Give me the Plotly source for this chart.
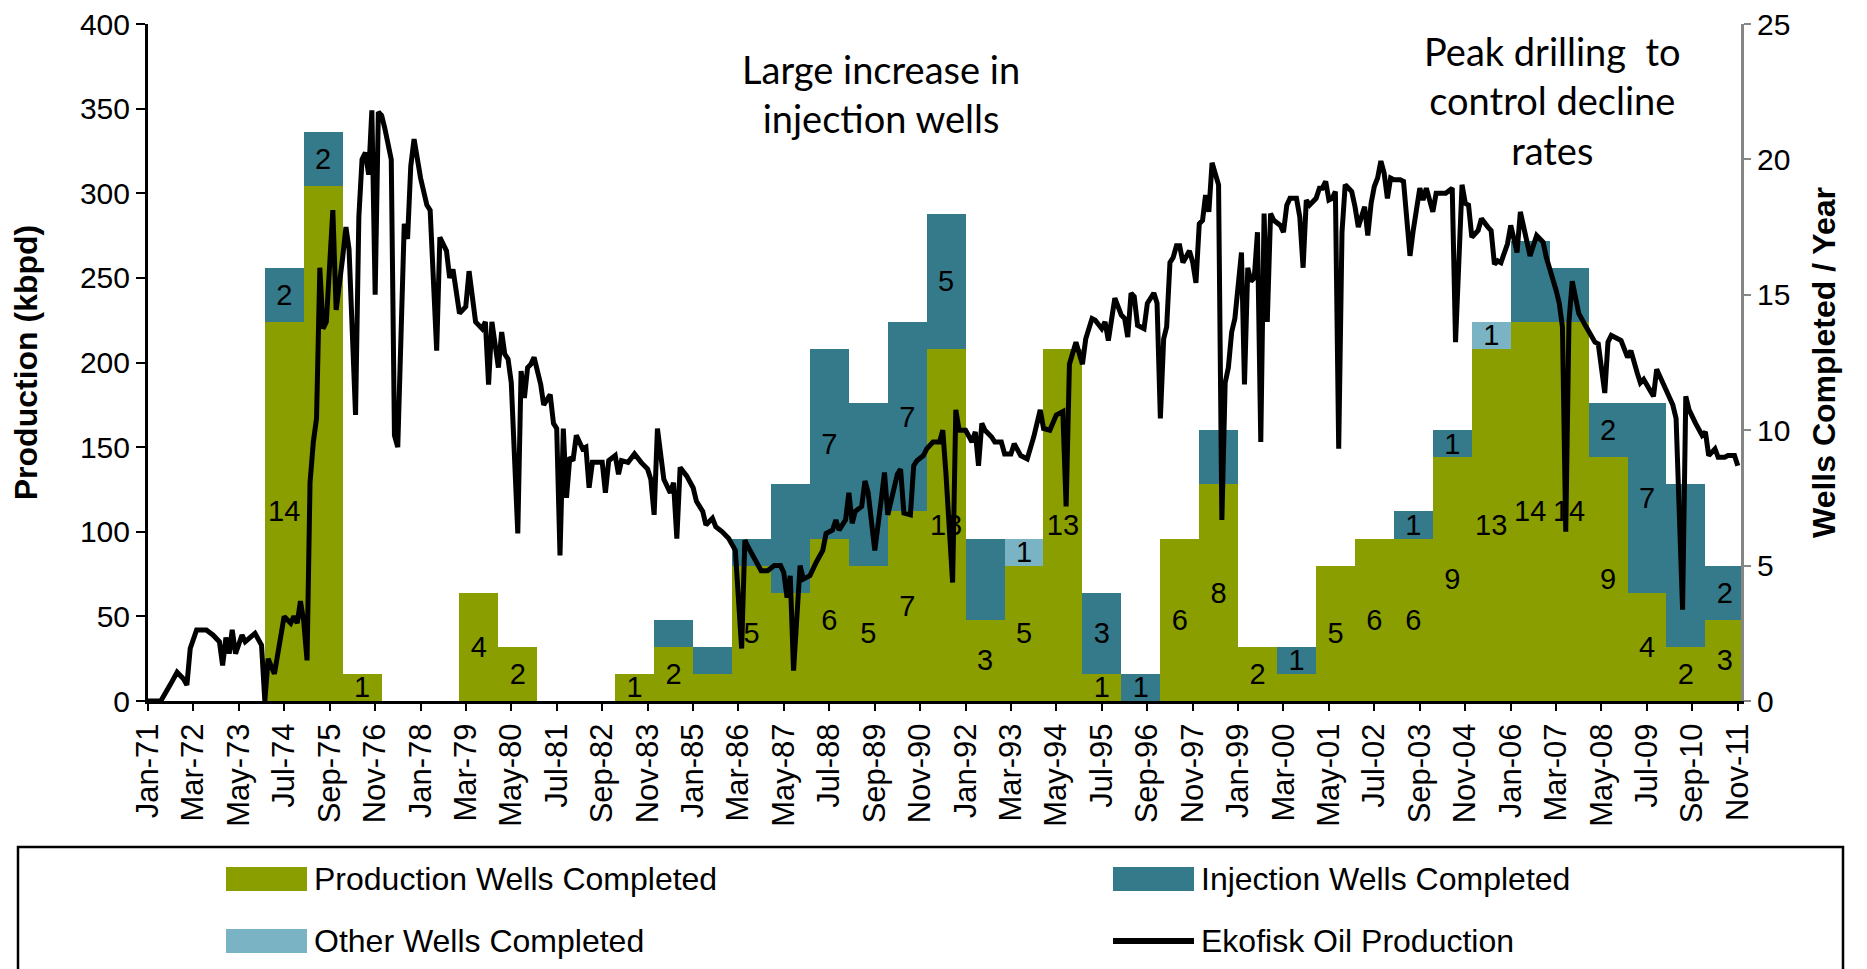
import plotly.graph_objects as go

# wells completed per year (right axis)
years = list(range(1971, 2012))
production_wells = [0, 0, 0, 14, 19, 1, 0, 0, 4, 2, 0, 0, 1, 2, 1, 5, 4, 6, 5, 7, 13,
                    3, 5, 13, 1, 0, 6, 8, 2, 1, 5, 6, 6, 9, 13, 14, 14, 9, 4, 2, 3]
injection_wells = [0, 0, 0, 2, 2, 0, 0, 0, 0, 0, 0, 0, 0, 1, 1, 1, 4, 7, 6, 7, 5,
                   3, 0, 0, 3, 1, 0, 2, 0, 1, 0, 0, 1, 1, 0, 3, 2, 2, 7, 6, 2]
other_wells = [0, 0, 0, 0, 0, 0, 0, 0, 0, 0, 0, 0, 0, 0, 0, 0, 0, 0, 0, 0, 0,
               0, 1, 0, 0, 0, 0, 0, 0, 0, 0, 0, 0, 0, 1, 0, 0, 0, 0, 0, 0]

# value labels as they appear on the chart (some are not shown)
production_labels = ["", "", "", "14", "", "1", "", "", "4", "2", "", "", "1", "2", "", "5", "", "6", "5", "7", "13",
                     "3", "5", "13", "1", "", "6", "8", "2", "", "5", "6", "6", "9", "13", "14", "14", "9", "4", "2", "3"]
injection_labels = ["", "", "", "2", "2", "", "", "", "", "", "", "", "", "", "", "", "", "7", "", "7", "5",
                    "", "", "", "3", "1", "", "", "", "1", "", "", "1", "1", "", "", "", "2", "7", "", "2"]
other_labels = ["", "", "", "", "", "", "", "", "", "", "", "", "", "", "", "", "", "", "", "", "",
                "", "1", "", "", "", "", "", "", "", "", "", "", "", "1", "", "", "", "", "", ""]

# Ekofisk oil production, kbpd (left axis)
oil_month = [
    "1971-01", "1971-05", "1971-08", "1971-10", "1971-12",
    "1972-01", "1972-02", "1972-04", "1972-07", "1972-09", "1972-11", "1972-12",
    "1973-01", "1973-02", "1973-03", "1973-04", "1973-06", "1973-07", "1973-10", "1973-12",
    "1974-01", "1974-02", "1974-04", "1974-07", "1974-09", "1974-10", "1974-11", "1974-12",
    "1975-01", "1975-02", "1975-03", "1975-04", "1975-05", "1975-06", "1975-07", "1975-08", "1975-10", "1975-11",
    "1976-01", "1976-02", "1976-03", "1976-05", "1976-06", "1976-07", "1976-08", "1976-09", "1976-10", "1976-11", "1976-12",
    "1977-01", "1977-02", "1977-04", "1977-05", "1977-06", "1977-08", "1977-09", "1977-10", "1977-11",
    "1978-01", "1978-03", "1978-04", "1978-06", "1978-07", "1978-09", "1978-10", "1978-11",
    "1979-01", "1979-03", "1979-04", "1979-06", "1979-08", "1979-09", "1979-10", "1979-11",
    "1980-01", "1980-02", "1980-03", "1980-04", "1980-05", "1980-07", "1980-08", "1980-09", "1980-10", "1980-11", "1980-12",
    "1981-02", "1981-03", "1981-05", "1981-06", "1981-07", "1981-08", "1981-09", "1981-10", "1981-11", "1981-12",
    "1982-01", "1982-03", "1982-04", "1982-05", "1982-06", "1982-09", "1982-10", "1982-11",
    "1983-01", "1983-02", "1983-03", "1983-05", "1983-07", "1983-09", "1983-11", "1983-12",
    "1984-01", "1984-02", "1984-04", "1984-06", "1984-07", "1984-08", "1984-09", "1984-11",
    "1985-01", "1985-02", "1985-04", "1985-05", "1985-07", "1985-08", "1985-10", "1985-12",
    "1986-02", "1986-04", "1986-05", "1986-06", "1986-09", "1986-10", "1986-12",
    "1987-02", "1987-04", "1987-05", "1987-06", "1987-07", "1987-08", "1987-10", "1987-11",
    "1988-01", "1988-03", "1988-05", "1988-06", "1988-08", "1988-09", "1988-10", "1988-12",
    "1989-01", "1989-02", "1989-03", "1989-05", "1989-06", "1989-07", "1989-08", "1989-09", "1989-11", "1989-12",
    "1990-01", "1990-03", "1990-04", "1990-05", "1990-06", "1990-08", "1990-09", "1990-10", "1990-12",
    "1991-01", "1991-03", "1991-05", "1991-06", "1991-07", "1991-09", "1991-10", "1991-11",
    "1992-01", "1992-03", "1992-04", "1992-05", "1992-06", "1992-07", "1992-09", "1992-10", "1992-12",
    "1993-01", "1993-03", "1993-04", "1993-06", "1993-08", "1993-10", "1993-12",
    "1994-01", "1994-03", "1994-05", "1994-07", "1994-08", "1994-09", "1994-11",
    "1995-01", "1995-02", "1995-04", "1995-05", "1995-07", "1995-08", "1995-09", "1995-11",
    "1996-01", "1996-02", "1996-03", "1996-04", "1996-05", "1996-06", "1996-08", "1996-09", "1996-11", "1996-12",
    "1997-01", "1997-02", "1997-03", "1997-04", "1997-05", "1997-06", "1997-07", "1997-08", "1997-10", "1997-11", "1997-12",
    "1998-01", "1998-02", "1998-03", "1998-04", "1998-05", "1998-06", "1998-07", "1998-08", "1998-09", "1998-10", "1998-11", "1998-12",
    "1999-01", "1999-02", "1999-03", "1999-04", "1999-05", "1999-06", "1999-07", "1999-08", "1999-09", "1999-10", "1999-11", "1999-12",
    "2000-02", "2000-03", "2000-04", "2000-05", "2000-07", "2000-08", "2000-09", "2000-10", "2000-11",
    "2001-01", "2001-02", "2001-03", "2001-04", "2001-05", "2001-06", "2001-07", "2001-08", "2001-09", "2001-10", "2001-12",
    "2002-01", "2002-02", "2002-04", "2002-05", "2002-06", "2002-07", "2002-08", "2002-09", "2002-10", "2002-11", "2002-12",
    "2003-01", "2003-03", "2003-04", "2003-06", "2003-07", "2003-09", "2003-10", "2003-11",
    "2004-01", "2004-02", "2004-03", "2004-05", "2004-07", "2004-08", "2004-10", "2004-11", "2004-12",
    "2005-01", "2005-03", "2005-04", "2005-06", "2005-07", "2005-08", "2005-09", "2005-10", "2005-12",
    "2006-01", "2006-03", "2006-04", "2006-05", "2006-06", "2006-07", "2006-09", "2006-11", "2006-12",
    "2007-02", "2007-03", "2007-04", "2007-05", "2007-06", "2007-07", "2007-08", "2007-09", "2007-10", "2007-12",
    "2008-02", "2008-03", "2008-04", "2008-06", "2008-07", "2008-08", "2008-10", "2008-11",
    "2009-01", "2009-02", "2009-04", "2009-05", "2009-06", "2009-08", "2009-09", "2009-10", "2009-12",
    "2010-01", "2010-03", "2010-04", "2010-06", "2010-07", "2010-08", "2010-10", "2010-12",
    "2011-01", "2011-02", "2011-04", "2011-05", "2011-07", "2011-08", "2011-10", "2011-11",
]
oil_kbpd = [
    0, 0, 10, 17, 13,
    9.5, 31, 42, 42, 39, 35, 21,
    37.5, 28, 42, 28, 39, 35, 40, 33,
    0, 25, 16, 50, 46, 50, 46, 59,
    47, 24, 129, 153, 167, 256, 220, 224, 290, 231,
    262, 280, 267, 169, 286, 320, 324, 311, 349, 240, 348,
    346, 338, 320, 157, 150, 282, 273, 316, 332,
    309, 293, 290, 207, 274, 266, 250, 255,
    229, 233, 254, 224, 220, 224, 187, 224,
    197, 218, 205, 202, 188, 99, 195, 179, 197, 199, 203,
    187, 175, 181, 164, 161, 86, 161, 120, 144, 142,
    157, 149, 150, 126, 141, 141, 123, 142,
    145, 134, 142, 141, 146, 141, 137, 131,
    110, 161, 131, 123, 129, 96, 138, 133,
    126, 118, 112, 104, 108, 103, 100, 96,
    89, 31, 95, 91, 81, 77, 77,
    80, 80, 76, 61, 74, 18, 80, 72,
    74, 82, 89, 99, 101, 107, 101, 107,
    123, 105, 112, 115, 130, 123, 108, 89, 119, 135,
    110, 125, 134, 137, 111, 110, 139, 142, 145,
    149, 153, 153, 160, 134, 70, 172, 160,
    160, 153, 159, 139, 164, 160, 156, 153, 153,
    146, 146, 152, 145, 143, 156, 172,
    161, 160, 169, 171, 115, 199, 212,
    199, 214, 226, 225, 220, 224, 213, 238,
    228, 226, 215, 241, 239, 222, 220, 235, 241, 235,
    167, 214, 221, 259, 262, 269, 269, 259, 266, 259, 247,
    282, 284, 299, 289, 318, 312, 305, 107, 188, 197, 218, 226,
    248, 265, 187, 256, 248, 250, 277, 153, 288, 224, 288, 284,
    281, 277, 293, 297, 297, 286, 256, 296, 293,
    297, 303, 303, 307, 296, 297, 301, 149, 277, 305, 301,
    292, 280, 292, 275, 294, 304, 309, 319, 312, 297, 309,
    308, 308, 307, 263, 278, 303, 296, 303,
    289, 300, 300, 300, 303, 212, 305, 294, 293,
    274, 278, 285, 280, 278, 258, 260, 259, 270,
    281, 265, 289, 280, 271, 263, 275, 271, 262,
    250, 243, 235, 221, 100, 224, 248, 237, 229, 222,
    216, 212, 211, 182, 212, 216, 214, 213,
    203, 207, 194, 188, 190, 184, 180, 196, 188,
    184, 175, 167, 54, 180, 172, 164, 157,
    159, 145, 149, 144, 144, 145, 145, 139,
]
assert len(oil_month) == len(oil_kbpd)

GREEN = "#8a9e00"
TEAL = "#347a8a"
LIGHT = "#7ab4c4"
FONT = "Liberation Sans, Arial, sans-serif"
NOTE_FONT = "Lato, Open Sans, sans-serif"

# the page body adds an 8px offset, so the figure is sized to fit the window
OFF = 8
W, H = 1867 - OFF, 969 - OFF
L, R, T, B = 148 - OFF, 126, 24 - OFF, 268
PW, PH = W - L - R, H - T - B
PLOT_LEFT, PLOT_BOTTOM = 148, 701   # on screen


def px(x):
    return (x - PLOT_LEFT) / PW


def py(y):
    return (PLOT_BOTTOM - y) / PH


bar_x = [f"{y}-07-02" for y in years]
year_ms = 365 * 24 * 3600 * 1000

fig = go.Figure()
for name, vals, labels, color in [
    ("Production Wells Completed", production_wells, production_labels, GREEN),
    ("Injection Wells Completed", injection_wells, injection_labels, TEAL),
    ("Other Wells Completed", other_wells, other_labels, LIGHT),
]:
    fig.add_trace(go.Bar(
        x=bar_x, y=vals, width=year_ms, name=name,
        marker=dict(color=color, line=dict(width=0)),
        text=labels, textposition="inside", insidetextanchor="middle",
        textangle=0, constraintext="none",
        textfont=dict(family=FONT, size=29, color="black"),
        yaxis="y",
    ))

fig.add_trace(go.Scatter(
    x=oil_month, y=oil_kbpd, mode="lines", name="Ekofisk Oil Production",
    line=dict(color="black", width=5), yaxis="y2",
))

fig.update_layout(
    width=W, height=H,
    margin=dict(l=L, r=R, t=T, b=B, autoexpand=False),
    plot_bgcolor="white", paper_bgcolor="white",
    showlegend=False, barmode="stack",
    font=dict(family=FONT, size=30, color="black"),
    xaxis=dict(
        type="date", range=["1971-01-01", "2011-12-01"],
        tick0="1971-01-01", dtick="M14", tickformat="%b-%y", tickangle=-90,
        ticks="outside", ticklen=7, tickwidth=2, tickcolor="black",
        showline=True, linecolor="black", linewidth=3,
        showgrid=False, zeroline=False, tickfont=dict(size=31),
        ticklabeloverflow="allow",
    ),
    yaxis=dict(
        range=[0, 25], dtick=5, side="right",
        showline=True, linecolor="#868686", linewidth=3,
        ticks="outside", ticklen=7, tickwidth=2, tickcolor="#868686",
        showgrid=False, zeroline=False, tickfont=dict(size=30),
        ticklabeloverflow="allow",
        title=dict(text="<b>Wells Completed / Year</b>", font=dict(size=32), standoff=24),
    ),
    yaxis2=dict(
        range=[0, 400], dtick=50, side="left", overlaying="y",
        showline=True, linecolor="black", linewidth=3,
        ticks="outside", ticklen=9, tickwidth=2, tickcolor="black",
        showgrid=False, zeroline=False, tickfont=dict(size=30),
        ticklabeloverflow="allow",
        title=dict(text="<b>Production (kbpd)</b>", font=dict(size=32), standoff=41),
    ),
)

# callouts
fig.add_annotation(x=px(881), y=py(93), xref="paper", yref="paper",
                   xanchor="center", yanchor="middle",
                   text="Large increase in<br>injection wells", showarrow=False,
                   font=dict(family=NOTE_FONT, size=38, color="black"))
fig.add_annotation(x=px(1552), y=py(101), xref="paper", yref="paper",
                   xanchor="center", yanchor="middle",
                   text="Peak drilling  to<br>control decline<br>rates", showarrow=False,
                   font=dict(family=NOTE_FONT, size=38, color="black"))

# legend box drawn by hand
fig.add_shape(type="rect", xref="paper", yref="paper",
              x0=px(18), x1=px(1843), y0=py(990), y1=py(847),
              line=dict(color="black", width=2.5), fillcolor="white", layer="below")
legend_items = [
    ("Production Wells Completed", GREEN, 226, 879, "box"),
    ("Injection Wells Completed", TEAL, 1113, 879, "box"),
    ("Other Wells Completed", LIGHT, 226, 941, "box"),
    ("Ekofisk Oil Production", "black", 1113, 941, "line"),
]
for label, color, lx, ly, kind in legend_items:
    if kind == "box":
        fig.add_shape(type="rect", xref="paper", yref="paper",
                      x0=px(lx), x1=px(lx + 81), y0=py(ly + 12), y1=py(ly - 12),
                      line=dict(width=0), fillcolor=color)
    else:
        fig.add_shape(type="line", xref="paper", yref="paper",
                      x0=px(lx), x1=px(lx + 81), y0=py(ly), y1=py(ly),
                      line=dict(color=color, width=6))
    fig.add_annotation(x=px(lx + 86), y=py(ly), xref="paper", yref="paper",
                       text=label, showarrow=False, xanchor="left", yanchor="middle",
                       font=dict(family=FONT, size=32, color="black"))

fig.write_html("out.html")
